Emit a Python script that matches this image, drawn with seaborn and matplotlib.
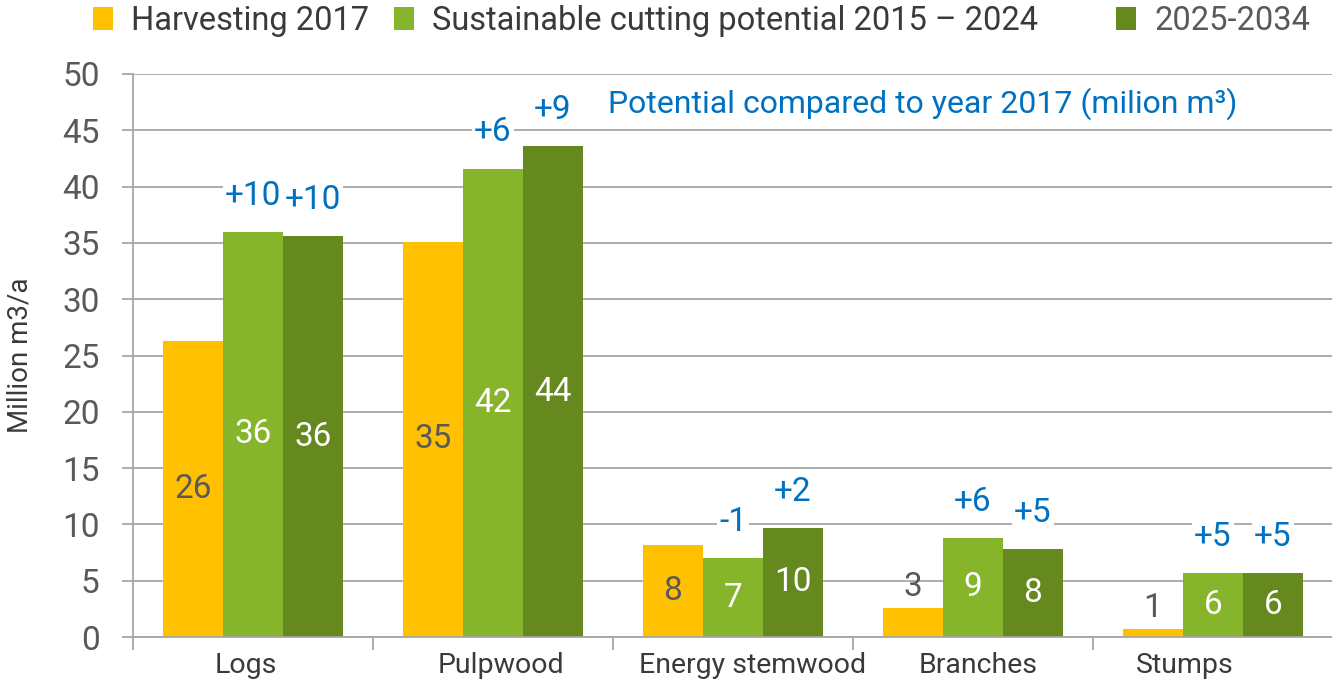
import matplotlib
matplotlib.use("Agg")
import matplotlib.pyplot as plt
import matplotlib.transforms as mtransforms
from matplotlib import font_manager
from matplotlib.patches import Patch
import pandas as pd
import seaborn as sns

# ---- data -------------------------------------------------------------
categories = ["Logs", "Pulpwood", "Energy stemwood", "Branches", "Stumps"]
series = ["Harvesting 2017",
          "Sustainable cutting potential 2015 \u2013 2024",
          "2025-2034"]
harvest_2017 = [26.3, 35.1, 8.2, 2.6, 0.7]
potential_2015_2024 = [36.0, 41.6, 7.0, 8.8, 5.7]
potential_2025_2034 = [35.6, 43.6, 9.7, 7.8, 5.7]
change_2015_2024 = ["+10", "+6", "-1", "+6", "+5"]
change_2025_2034 = ["+10", "+9", "+2", "+5", "+5"]
y_ticks = [0, 5, 10, 15, 20, 25, 30, 35, 40, 45, 50]
note_text = "Potential compared to year 2017 (milion m\u00b3)"
y_title = "Million m3/a"

# ---- style ------------------------------------------------------------
colors = ["#FFC000", "#86B42A", "#65881F"]
grid_gray = "#A6A6A6"
text_gray = "#595959"
dark_text = "#3A3A3A"
blue = "#0070C0"

sns.set_theme(style="white")
installed = {f.name for f in font_manager.fontManager.ttflist}
main_font = "Liberation Sans Narrow" if "Liberation Sans Narrow" in installed else "Roboto"
plt.rcParams["font.family"] = [main_font, "DejaVu Sans"]

df = pd.DataFrame({
    "category": categories * 3,
    "series": [series[0]] * 5 + [series[1]] * 5 + [series[2]] * 5,
    "value": harvest_2017 + potential_2015_2024 + potential_2025_2034,
})

fig = plt.figure(figsize=(13.32, 6.87), dpi=100)
ax = fig.add_axes([133 / 1332, 1 - 637 / 687, 1200 / 1332, 563 / 687])

sns.barplot(data=df, x="category", y="value", hue="series",
            order=categories, hue_order=series, palette=colors,
            saturation=1, width=0.75, gap=0, linewidth=0,
            legend=False, ax=ax, zorder=2)

ax.set_xlim(-0.5, len(categories) - 0.5)
ax.set_ylim(0, 50)
ax.set_yticks(y_ticks)
ax.set_axisbelow(True)
ax.yaxis.grid(True, color=grid_gray, lw=1.3)
ax.xaxis.grid(False)

for side in ("top", "right"):
    ax.spines[side].set_visible(False)
for side in ("left", "bottom"):
    ax.spines[side].set_color(grid_gray)
    ax.spines[side].set_linewidth(1.3)

ax.tick_params(axis="y", which="major", direction="out", length=8, width=1.3,
               color=grid_gray, labelsize=24, labelcolor=text_gray, pad=16,
               left=True)

# category labels at group centres, boundary ticks between groups
ax.set_xticks(range(len(categories)))
ax.set_xticklabels(categories)
ax.set_xticks([i - 0.5 for i in range(len(categories) + 1)], minor=True)
ax.tick_params(axis="x", which="major", length=0, labelsize=20.5,
               labelcolor=dark_text, pad=11)
ax.tick_params(axis="x", which="minor", direction="out", length=9,
               width=1.3, color=grid_gray, bottom=True)
label_shift_pt = [-5, 6, 14, 4, -20]
for lbl, dx in zip(ax.get_xticklabels(), label_shift_pt):
    lbl.set_transform(lbl.get_transform()
                      + mtransforms.ScaledTranslation(dx / 72, 0, fig.dpi_scale_trans))

ax.set_xlabel("")
ax.set_ylabel(y_title, fontsize=20, color=dark_text)
ax.yaxis.label.set_verticalalignment("center")
ax.yaxis.set_label_coords(-113 / 1200, 0.5)

# value labels on the bars
for k, cont in enumerate(ax.containers):
    for bar in cont:
        v = bar.get_height()
        xc = bar.get_x() + bar.get_width() / 2
        if v < 5:
            ax.annotate(f"{v:.0f}", (xc, v), xytext=(0, 15),
                        textcoords="offset points", ha="center", va="center",
                        fontsize=24, color=text_gray, zorder=4)
        else:
            ax.text(xc, v / 2, f"{v:.0f}", ha="center", va="center",
                    fontsize=24, color=text_gray if k == 0 else "white",
                    zorder=4)

# change versus 2017 above the potential bars
for cont, changes in zip(ax.containers[1:], [change_2015_2024, change_2025_2034]):
    for bar, txt in zip(cont, changes):
        xc = bar.get_x() + bar.get_width() / 2
        ax.annotate(txt, (xc, bar.get_height()), xytext=(0, 26),
                    textcoords="offset points", ha="center", va="center",
                    fontsize=24, color=blue, zorder=5,
                    bbox=dict(facecolor="white", edgecolor="none", pad=1.5))

fig.text(923 / 1332, 1 - 104 / 687, note_text, ha="center", va="center",
         fontsize=23, color=blue)

# legend: first two series together, the last one set apart on the right
handles = [Patch(facecolor=c, edgecolor="none") for c in colors]
leg_kw = dict(frameon=False, fontsize=23.5, handlelength=0.62,
              handleheight=0.68, handletextpad=0.55, columnspacing=0.75,
              borderpad=0, borderaxespad=0, loc="center left")
leg1 = fig.legend(handles[:2], series[:2], ncol=2,
                  bbox_to_anchor=(93 / 1332, 1 - 21 / 687), **leg_kw)
leg2 = fig.legend(handles[2:], series[2:], ncol=1,
                  bbox_to_anchor=(1116 / 1332, 1 - 21 / 687), **leg_kw)
for t in leg1.get_texts():
    t.set_color(dark_text)
for t in leg2.get_texts():
    t.set_color(text_gray)

fig.savefig("out.png", dpi=100)
